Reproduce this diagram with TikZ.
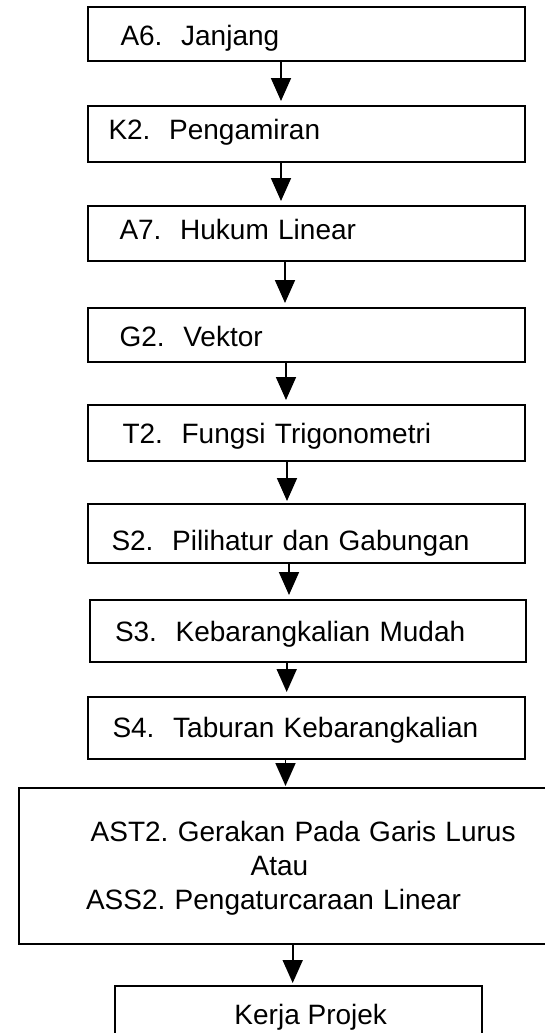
\documentclass[tikz,border=0pt]{standalone}
\usepackage{fontspec}
\setmainfont{Liberation Sans}
\usepackage{tikz}
\usetikzlibrary{arrows.meta}
\frenchspacing

\begin{document}
\begin{tikzpicture}[
  x=1pt,y=-1pt,
  font=\fontsize{28pt}{34pt}\selectfont,
  box/.style={draw,line width=2pt,outer sep=0pt,anchor=north west,align=left,
              inner xsep=#1pt,inner ysep=0pt,text width={437.5pt-2*#1pt},
              text height=21pt,text depth=0pt,minimum height=56pt},
  bigbox/.style={draw,line width=2pt,outer sep=0pt,anchor=north west,align=left,
                 inner xsep=67pt,inner ysep=0pt,text width=440pt,
                 text height=20pt,text depth=69pt,minimum height=156pt},
  endbox/.style={draw,line width=2pt,outer sep=0pt,anchor=north west,inner sep=0pt,
                 text height=21pt,text depth=0pt,minimum width=366.5pt,minimum height=55pt},
  arr/.style={-{Triangle[width=20pt,length=23pt]},line width=1.8pt,shorten >=5pt}
]
\useasboundingbox (0,0) rectangle (545,1033);
\node[box=33,minimum height=54pt,text height=23pt] (janjang) at (87.5,7)   {A6.\ \ Janjang};
\node[box=21,text depth=11pt]                     (amir)    at (87.5,106) {K2.\ \ Pengamiran};
\node[box=32,minimum height=55pt,text depth=10pt] (hukum)   at (87.5,206) {A7.\ \ Hukum Linear};
\node[box=32,minimum height=54pt,text height=23pt] (vektor) at (87.5,308) {G2.\ \ Vektor};
\node[box=35]                                     (trigo)   at (87.5,405) {T2.\ \ Fungsi Trigonometri};
\node[box=24,minimum height=59pt,text height=33pt] (pilih)  at (87.5,504) {S2.\ \ Pilihatur dan Gabungan};
\node[box=25,minimum height=62pt,text width=386pt] (mudah)  at (90,600)   {S3.\ \ Kebarangkalian Mudah};
\node[box=25,minimum height=62pt,text height=19pt] (taburan) at (87.5,697) {S4.\ \ Taburan Kebarangkalian};
\node[bigbox] (pilihan) at (19,788) {\hspace*{4.7pt}AST2. Gerakan Pada Garis Lurus\\
  \hspace*{164.7pt}Atau\\ASS2. Pengaturcaraan Linear};
\node[endbox] (projek) at (115,986) {\hspace*{25pt}Kerja Projek};
\draw[arr] (janjang.south -| 281,0) -- (amir.north -| 281,0);
\draw[arr] (amir.south -| 281,0) -- (hukum.north -| 281,0);
\draw[arr] (hukum.south -| 285,0) -- (vektor.north -| 285,0);
\draw[arr] (vektor.south -| 286,0) -- (trigo.north -| 286,0);
\draw[arr,shorten >=3pt] (trigo.south -| 287,0) -- (pilih.north -| 287,0);
\draw[arr] (pilih.south -| 289,0) -- (mudah.north -| 289,0);
\draw[arr] (mudah.south -| 286.7,0) -- (taburan.north -| 286.7,0);
\draw[arr,shorten >=2pt] (taburan.south -| 285.5,0) -- (pilihan.north -| 285.5,0);
\draw[arr,shorten >=3pt] (pilihan.south -| 292.7,0) -- (projek.north -| 292.7,0);
\end{tikzpicture}
\end{document}
